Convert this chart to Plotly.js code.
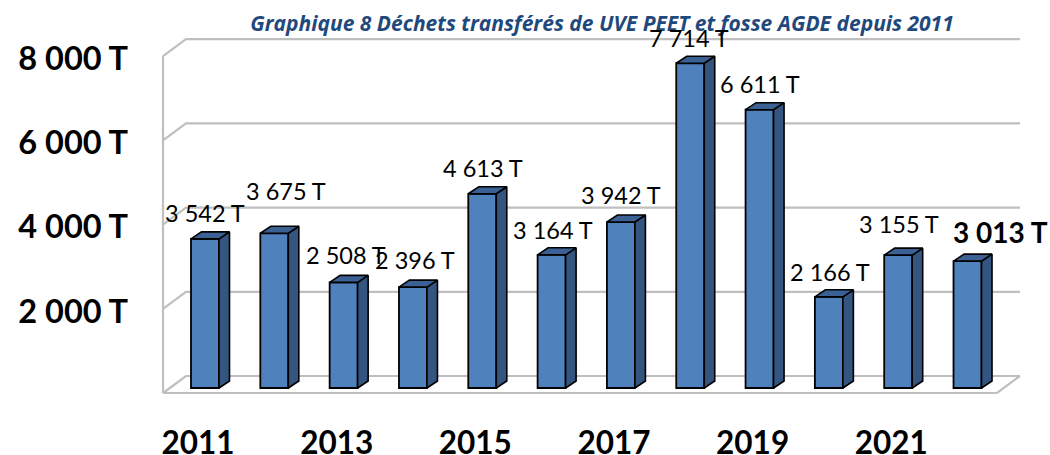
<!DOCTYPE html>
<html><head><meta charset="utf-8"><script src="https://cdn.plot.ly/plotly-3.0.1.min.js"></script>
<style>html,body{margin:0;padding:0;background:#fff}</style></head><body><div id="c" style="width:1050px;height:455px"></div>
<script>
const years=[2011,2012,2013,2014,2015,2016,2017,2018,2019,2020,2021,2022];
const tonnes=[3542,3675,2508,2396,4613,3164,3942,7714,6611,2166,3155,3013];
const xTickYears=[2011,2013,2015,2017,2019,2021];
const yTickValues=[2000,4000,6000,8000];
const titleText='Graphique 8 Déchets transférés de UVE PEET et fosse AGDE depuis 2011';
// manual label placement (pixels from bar centre / bar top)
const labelDx=[0,12,2,2,1,1,0,-1,0,1,1,33];
const labelDy=[26,42,27,27,26,25,27,25,26,25,31,29];

const W=1050,H=455,L=135,B=40;
const pxPerYear=69.32,pxPerUnit=0.0421;
const fmt=v=>String(v).replace(/\B(?=(\d{3})+$)/g,' ')+' T';
const xRange=[2011-(205-L)/pxPerYear,2011+(W-205)/pxPerYear];
const yRange=[-(H-B-388)/pxPerUnit,388/pxPerUnit];
const bw=0.404,dX=10.5/pxPerYear,dY=7/pxPerUnit;
const floorDX=23/pxPerYear,floorFrontY=-5/pxPerUnit,floorBackY=12/pxPerUnit;
const leftX=2011-42/pxPerYear,rightX=2011+(997-205)/pxPerYear;

let wall='';
const seg=(pts)=>{wall+=pts.map((p,i)=>(i?'L':'M')+p[0]+','+p[1]).join(' ')+' '};
[0,...yTickValues].forEach(v=>seg([[leftX,v+floorFrontY],[leftX+floorDX,v+floorBackY],[rightX+floorDX,v+floorBackY]]));
seg([[leftX,floorFrontY],[leftX,8000+floorFrontY]]);
seg([[leftX,floorFrontY],[rightX,floorFrontY],[rightX+floorDX,floorBackY]]);

const sx=[],sy=[],tx=[],ty=[];
years.forEach((y,i)=>{const r=y+bw/2,l=y-bw/2,v=tonnes[i];
 sx.push(r,r+dX,r+dX,r,r,null);sy.push(0,dY,v+dY,v,0,null);
 tx.push(l,l+dX,r+dX,r,l,null);ty.push(v,v+dY,v+dY,v,v,null);});

const data=[
 {type:'bar',x:years,y:tonnes,width:bw,marker:{color:'#4F81BD',line:{color:'#000',width:1.8}},showlegend:false},
 {type:'scatter',mode:'lines',x:sx,y:sy,fill:'toself',fillcolor:'#34557F',line:{color:'#000',width:1.6},hoverinfo:'skip',showlegend:false},
 {type:'scatter',mode:'lines',x:tx,y:ty,fill:'toself',fillcolor:'#3B6194',line:{color:'#000',width:1.6},hoverinfo:'skip',showlegend:false}
];
const annotations=years.map((y,i)=>({x:y,y:tonnes[i],xref:'x',yref:'y',text:i===11?'<b>'+fmt(tonnes[i])+'</b>':fmt(tonnes[i]),showarrow:false,
 xshift:labelDx[i],yshift:labelDy[i],xanchor:'center',yanchor:'middle',
 font:{family:'Lato',size:i===11?28:23.5,color:'#000'}}));
const layout={width:W,height:H,margin:{l:L,r:0,t:0,b:B},paper_bgcolor:'#fff',plot_bgcolor:'#fff',showlegend:false,
 title:{text:'<b><i>'+titleText+'</i></b>',x:602/W,xanchor:'center',y:1-24/H,yanchor:'middle',font:{family:'Open Sans',size:21,color:'#1F497D'}},
 shapes:[{type:'path',xref:'x',yref:'y',layer:'below',path:wall.trim(),line:{color:'#BFBFBF',width:2.2}}],
 xaxis:{range:xRange,showgrid:false,zeroline:false,showline:false,tickmode:'array',tickvals:xTickYears.map(y=>y-0.1),ticktext:xTickYears.map(String),ticks:'',ticklabelstandoff:6,tickfont:{family:'Lato',size:31.5,color:'#000',weight:700}},
 yaxis:{range:yRange,showgrid:false,zeroline:false,showline:false,tickmode:'array',tickvals:yTickValues.map(v=>v+floorFrontY-2.5/pxPerUnit),ticktext:yTickValues.map(fmt),ticks:'',ticklabelstandoff:6,tickfont:{family:'Lato',size:32.5,color:'#000',weight:700}},
 annotations};
Plotly.newPlot('c',data,layout,{displayModeBar:false,staticPlot:true});
</script></body></html>
